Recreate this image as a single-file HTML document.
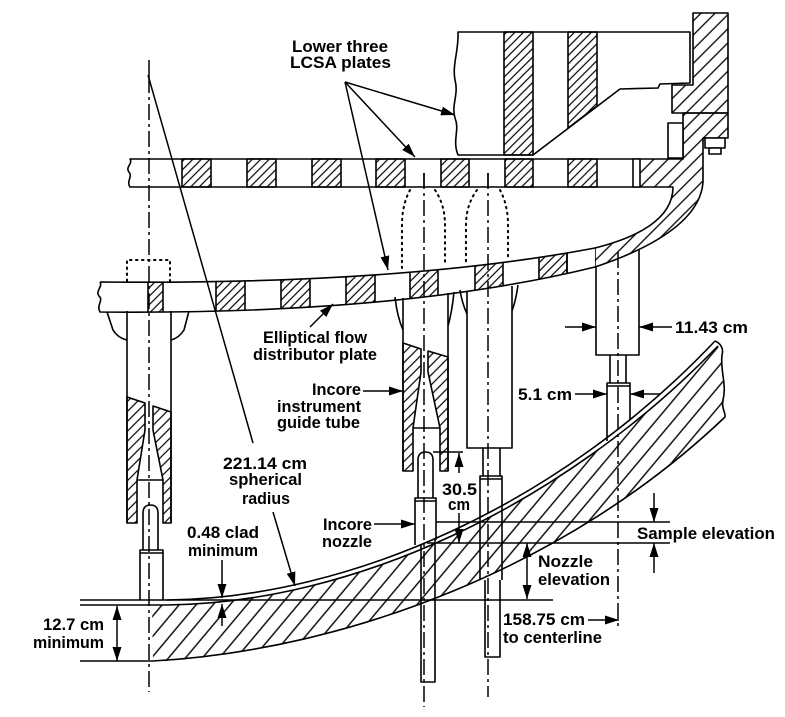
<!DOCTYPE html>
<html><head><meta charset="utf-8"><style>
html,body{margin:0;padding:0;background:#fff;}
svg{display:block;}
text{font-family:"Liberation Sans",Arial,sans-serif;font-weight:bold;font-size:17px;fill:#000;}
</style></head><body>
<svg width="785" height="717" viewBox="0 0 785 717" xmlns="http://www.w3.org/2000/svg">
<defs>
<pattern id="hs" width="6" height="6" patternUnits="userSpaceOnUse" patternTransform="rotate(45)"><line x1="3" y1="0" x2="3" y2="6" stroke="#000" stroke-width="1.2"/></pattern>
<pattern id="hi" width="7" height="7" patternUnits="userSpaceOnUse" patternTransform="rotate(45)"><line x1="3" y1="0" x2="3" y2="7" stroke="#000" stroke-width="1.2"/></pattern>
<pattern id="hm" width="10" height="10" patternUnits="userSpaceOnUse" patternTransform="rotate(45)"><line x1="5" y1="0" x2="5" y2="10" stroke="#000" stroke-width="1.3"/></pattern>
<pattern id="hl" width="13" height="13" patternUnits="userSpaceOnUse" patternTransform="rotate(40)"><line x1="6" y1="0" x2="6" y2="13" stroke="#000" stroke-width="1.4"/></pattern>
<marker id="ar" markerWidth="14" markerHeight="9" refX="14" refY="4.5" orient="auto" markerUnits="userSpaceOnUse"><path d="M0,0 L14,4.5 L0,9 Z" fill="#000"/></marker>
<marker id="as" markerWidth="14" markerHeight="9" refX="14" refY="4.5" orient="auto-start-reverse" markerUnits="userSpaceOnUse"><path d="M0,0 L14,4.5 L0,9 Z" fill="#000"/></marker>
<clipPath id="cp"><path d="M100,282 Q400,285 595,248 L595,267 Q400,315 100,312 Z"/></clipPath>
</defs>
<rect width="785" height="717" fill="#fff"/>

<g stroke="#000" stroke-width="1.6" stroke-linejoin="round" fill="none">
<!-- vessel / barrel upper right -->
<path d="M693,13 L728,13 L728,113 L672,113 L672,85 L693,85 Z" fill="url(#hm)"/>
<path d="M683,113 L728,113 L728,138 L703,138 L703,182 C700,225 640,252 595,267 L595,248 C635,238 673,220 673,187 L633,187 L633,159 L683,159 Z" fill="url(#hm)"/>
<rect x="668" y="123" width="15" height="35" fill="#fff"/>
<rect x="705" y="138" width="20" height="10" fill="#fff"/>
<rect x="709" y="148" width="12" height="6" fill="#fff"/>

<!-- LCSA block -->
<path d="M458,32 L690,32 L690,83 L660,84 L658,88 L620,89 L533,155 L458,155 C452,140 460,130 455,118 C451,105 459,95 455,80 C452,65 459,50 458,32 Z" fill="#fff"/>
<rect x="504" y="32" width="29" height="123" fill="url(#hs)"/>
<path d="M568,32 L597,32 L597,106 L568,128 Z" fill="url(#hs)"/>

<!-- upper plate -->
<path d="M130,159 L640,159 L640,187 L130,187 C126,181 133,177 129,172 C125,167 133,164 130,159 Z" fill="#fff"/>
<rect x="182" y="159" width="29" height="28" fill="url(#hs)"/>
<rect x="247" y="159" width="29" height="28" fill="url(#hs)"/>
<rect x="312" y="159" width="29" height="28" fill="url(#hs)"/>
<rect x="376" y="159" width="29" height="28" fill="url(#hs)"/>
<rect x="441" y="159" width="28" height="28" fill="url(#hs)"/>
<rect x="505" y="159" width="28" height="28" fill="url(#hs)"/>
<rect x="568" y="159" width="29" height="28" fill="url(#hs)"/>
<line x1="633" y1="159" x2="633" y2="187"/>

<!-- elliptical plate -->
<path d="M100,282 Q400,285 595,248 L595,267 Q400,315 100,312 Z" fill="#fff" stroke="none"/>
<g clip-path="url(#cp)">
<rect x="148" y="230" width="15" height="100" fill="url(#hs)"/>
<rect x="216" y="230" width="29" height="100" fill="url(#hs)"/>
<rect x="281" y="230" width="29" height="100" fill="url(#hs)"/>
<rect x="346" y="230" width="29" height="100" fill="url(#hs)"/>
<rect x="410" y="230" width="28" height="100" fill="url(#hs)"/>
<rect x="475" y="230" width="28" height="100" fill="url(#hs)"/>
<rect x="539" y="230" width="28" height="100" fill="url(#hs)"/>
<line x1="567" y1="230" x2="567" y2="330"/>
</g>
<path d="M100,282 Q400,285 595,248 M595,267 Q400,315 100,312 C96,305 104,300 99,296 C95,291 103,287 100,282"/>

<!-- phantom dotted -->
<g stroke-dasharray="1.5 4.5" stroke-linecap="round" stroke-width="2">
<path d="M127,281 L127,260 L170,260 L170,281"/>
<path d="M410,190 Q402,205 402,225 L402,268"/>
<path d="M435,190 Q445,205 445,225 L445,265"/>
<path d="M477,190 Q466,205 466,225 L466,264"/>
<path d="M500,190 Q508,205 508,225 L508,260"/>
</g>

<!-- left tube -->
<path d="M107,312 L113,330 Q118,338 127,340"/>
<path d="M189,311 L184,330 Q179,338 171,340"/>
<line x1="127" y1="311" x2="127" y2="523"/>
<line x1="171" y1="311" x2="171" y2="523"/>
<path d="M127,397 L145,403 L145,430 L137,480 L137,523 L127,523 Z" fill="url(#hi)"/>
<path d="M153,406 L171,412 L171,523 L163,523 L163,480 L153,430 Z" fill="url(#hi)"/>
<line x1="137" y1="480" x2="163" y2="480"/>

<!-- tube A -->
<path d="M395,297 Q397,316 403,330"/>
<path d="M454,292 Q452,312 448,326"/>
<line x1="403" y1="298" x2="403" y2="471"/>
<line x1="448" y1="293" x2="448" y2="471"/>
<path d="M403,343 L421,349 L421,372 L413,428 L413,471 L403,471 Z" fill="url(#hi)"/>
<path d="M428,351 L448,357 L448,471 L440,471 L440,428 L428,372 Z" fill="url(#hi)"/>
<line x1="413" y1="428" x2="440" y2="428"/>

<!-- tube B -->
<path d="M460,290 Q462,303 467,314"/>
<path d="M518,285 Q516,300 512,311"/>
<path d="M467,291 L467,448 L512,448 L512,286"/>

<!-- right tube -->
<path d="M596,267 L596,355 L639,355 L639,250"/>
<path d="M610,355 L610,383 M626,355 L626,383"/>

<!-- lower head -->
<path d="M152,605 L167,605 C350,603 560,509 718,346 C724,360 722,390 725,417 C570,565 350,650 153,662 Z" fill="url(#hl)" stroke="none"/>
<path d="M80,600 L553,600"/>
<path d="M167,600 C350,598 560,505 715,341"/>
<path d="M80,605 L167,605 C350,603 560,509 718,346"/>
<path d="M715,341 C720,343 724,348 722,355 C720,370 727,385 723,400 C721,408 726,413 725,417"/>
<path d="M80,661 L153,661 C350,650 570,565 725,417"/>

<!-- nozzles -->
<path d="M143,550 L143,513 Q143,505 150.5,505 Q158,505 158,513 L158,550" fill="#fff"/>
<path d="M140,600 L140,550 L163,550 L163,600 M140,553 L163,553"/>
<path d="M418,498 L418,460 Q418,452 425.5,452 Q433,452 433,460 L433,498" fill="#fff"/>
<path d="M415,545 L415,498 L436,498 L436,540 M415,501 L436,501"/>
<path d="M421,545 L421,682 L435,682 L435,540"/>
<path d="M483,448 L483,476 M500,448 L500,476"/>
<path d="M480,580 L480,476 L502,476 L502,580 M480,479 L502,479"/>
<path d="M485,580 L485,657 L500,657 L500,580"/>
<path d="M607,441 L607,383 L630,383 L630,420 M607,386 L630,386"/>
</g>

<!-- centerlines -->
<g stroke="#000" stroke-width="1.5" fill="none" stroke-dasharray="16 4 3 4">
<line x1="149" y1="77" x2="149" y2="692"/>
<line x1="424" y1="173" x2="424" y2="707"/>
<line x1="488" y1="173" x2="488" y2="697"/>
<line x1="618" y1="252" x2="618" y2="626"/>
</g>
<g stroke="#000" stroke-width="1.5" fill="none">
<line x1="149" y1="60" x2="149" y2="77"/>
<line x1="424" y1="173" x2="424" y2="187"/>
<line x1="488" y1="173" x2="488" y2="187"/>
<line x1="148" y1="75" x2="253" y2="443"/>

<!-- leaders & dimensions -->
<line x1="345" y1="82" x2="455" y2="115" marker-end="url(#ar)"/>
<line x1="345" y1="82" x2="415" y2="157" marker-end="url(#ar)"/>
<line x1="345" y1="82" x2="388" y2="270" marker-end="url(#ar)"/>
<line x1="310" y1="327" x2="333" y2="304" marker-end="url(#ar)"/>
<line x1="363" y1="391" x2="403" y2="391" marker-end="url(#ar)"/>
<line x1="374" y1="524" x2="415" y2="524" marker-end="url(#ar)"/>
<line x1="273" y1="512" x2="295" y2="586" marker-end="url(#ar)"/>
<line x1="565" y1="327" x2="596" y2="327" marker-end="url(#ar)"/>
<line x1="672" y1="327" x2="639" y2="327" marker-end="url(#ar)"/>
<line x1="575" y1="394" x2="607" y2="394" marker-end="url(#ar)"/>
<line x1="660" y1="394" x2="630" y2="394" marker-end="url(#ar)"/>
<line x1="433" y1="452" x2="463" y2="452"/>
<line x1="459" y1="473" x2="459" y2="453" marker-end="url(#ar)"/>
<line x1="459" y1="513" x2="459" y2="543" marker-end="url(#ar)"/>
<line x1="436" y1="522" x2="670" y2="522"/>
<line x1="427" y1="543" x2="670" y2="543"/>
<line x1="654" y1="493" x2="654" y2="522" marker-end="url(#ar)"/>
<line x1="654" y1="573" x2="654" y2="543" marker-end="url(#ar)"/>
<line x1="527" y1="543" x2="527" y2="599" marker-start="url(#as)" marker-end="url(#as)"/>
<line x1="588" y1="620" x2="619" y2="620" marker-end="url(#ar)"/>
<line x1="117" y1="606" x2="117" y2="661" marker-start="url(#as)" marker-end="url(#as)"/>
<line x1="222" y1="560" x2="222" y2="598" marker-end="url(#ar)"/>
<line x1="222" y1="626" x2="222" y2="604" marker-end="url(#ar)"/>
</g>

<!-- labels -->
<text x="292" y="52" textLength="96" lengthAdjust="spacingAndGlyphs">Lower three</text>
<text x="290" y="68" textLength="101" lengthAdjust="spacingAndGlyphs">LCSA plates</text>
<text x="263" y="343" textLength="104" lengthAdjust="spacingAndGlyphs">Elliptical flow</text>
<text x="253" y="360" textLength="124" lengthAdjust="spacingAndGlyphs">distributor plate</text>
<text x="312" y="395" textLength="49" lengthAdjust="spacingAndGlyphs">Incore</text>
<text x="277" y="412" textLength="84" lengthAdjust="spacingAndGlyphs">instrument</text>
<text x="277" y="428" textLength="83" lengthAdjust="spacingAndGlyphs">guide tube</text>
<text x="223" y="469" textLength="84" lengthAdjust="spacingAndGlyphs">221.14 cm</text>
<text x="229" y="485" textLength="73" lengthAdjust="spacingAndGlyphs">spherical</text>
<text x="242" y="504" textLength="48" lengthAdjust="spacingAndGlyphs">radius</text>
<text x="187" y="538" textLength="72" lengthAdjust="spacingAndGlyphs">0.48 clad</text>
<text x="188" y="556" textLength="70" lengthAdjust="spacingAndGlyphs">minimum</text>
<text x="43" y="630" textLength="61" lengthAdjust="spacingAndGlyphs">12.7 cm</text>
<text x="33" y="648" textLength="71" lengthAdjust="spacingAndGlyphs">minimum</text>
<text x="323" y="530" textLength="49" lengthAdjust="spacingAndGlyphs">Incore</text>
<text x="322" y="547" textLength="50" lengthAdjust="spacingAndGlyphs">nozzle</text>
<text x="518" y="400" textLength="54" lengthAdjust="spacingAndGlyphs">5.1 cm</text>
<text x="675" y="333" textLength="73" lengthAdjust="spacingAndGlyphs">11.43 cm</text>
<text x="442" y="495" textLength="35" lengthAdjust="spacingAndGlyphs">30.5</text>
<text x="448" y="510" textLength="22" lengthAdjust="spacingAndGlyphs">cm</text>
<text x="637" y="539" textLength="138" lengthAdjust="spacingAndGlyphs">Sample elevation</text>
<text x="538" y="567" textLength="55" lengthAdjust="spacingAndGlyphs">Nozzle</text>
<text x="538" y="585" textLength="72" lengthAdjust="spacingAndGlyphs">elevation</text>
<text x="503" y="625" textLength="82" lengthAdjust="spacingAndGlyphs">158.75 cm</text>
<text x="503" y="643" textLength="99" lengthAdjust="spacingAndGlyphs">to centerline</text>
</svg>
</body></html>
